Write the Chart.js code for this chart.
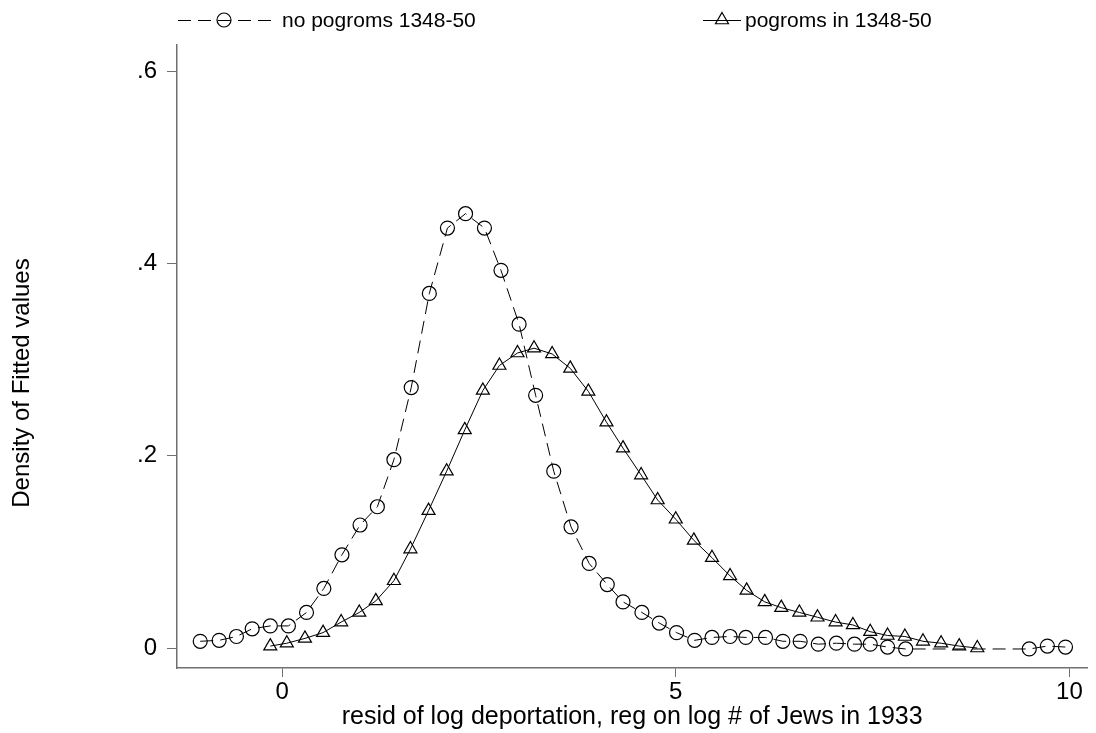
<!DOCTYPE html>
<html>
<head>
<meta charset="utf-8">
<script src="https://cdn.jsdelivr.net/npm/chart.js@4.4.1/dist/chart.umd.min.js"></script>
<style>
  html, body { margin: 0; padding: 0; background: #fff; }
  #wrap { width: 1096px; height: 733px; position: relative; }
</style>
</head>
<body>
<div id="wrap"><canvas id="c" width="1096" height="733"></canvas></div>
<script>
// ---- data ----
const seriesNames = ['no pogroms 1348-50', 'pogroms in 1348-50'];

const xNoPogroms = [-1.04, -0.80, -0.58, -0.38, -0.15, 0.08, 0.31, 0.53, 0.76, 0.99,
  1.21, 1.42, 1.64, 1.87, 2.10, 2.33, 2.57, 2.78, 3.01, 3.22,
  3.45, 3.67, 3.90, 4.13, 4.33, 4.57, 4.79, 5.01, 5.24, 5.46,
  5.69, 5.89, 6.14, 6.36, 6.58, 6.81, 7.04, 7.27, 7.47, 7.69,
  7.92, 9.49, 9.72, 9.95];
const yNoPogroms = [0.007, 0.008, 0.012, 0.020, 0.023, 0.023, 0.037, 0.062, 0.097, 0.128,
  0.147, 0.196, 0.271, 0.369, 0.437, 0.452, 0.437, 0.393, 0.337, 0.263,
  0.184, 0.126, 0.088, 0.066, 0.048, 0.037, 0.026, 0.016, 0.008, 0.011,
  0.012, 0.011, 0.011, 0.007, 0.007, 0.004, 0.005, 0.004, 0.004, 0.001,
  -0.001, -0.001, 0.002, 0.001];

const xPogroms = [-0.15, 0.06, 0.29, 0.52, 0.75, 0.98, 1.19, 1.42, 1.63, 1.86,
  2.09, 2.32, 2.55, 2.76, 2.99, 3.20, 3.43, 3.66, 3.89, 4.12,
  4.33, 4.56, 4.77, 5.00, 5.23, 5.46, 5.69, 5.90, 6.13, 6.34,
  6.57, 6.80, 7.03, 7.25, 7.47, 7.69, 7.91, 8.14, 8.37, 8.60,
  8.83];
const yPogroms = [0.002, 0.005, 0.010, 0.016, 0.027, 0.037, 0.049, 0.070, 0.103, 0.143,
  0.184, 0.227, 0.268, 0.294, 0.307, 0.312, 0.306, 0.291, 0.267, 0.235,
  0.208, 0.180, 0.154, 0.134, 0.112, 0.094, 0.075, 0.060, 0.048, 0.042,
  0.037, 0.032, 0.027, 0.024, 0.017, 0.013, 0.012, 0.007, 0.005, 0.002,
  0.000];

const xTicks = [0, 5, 10];
const xTickLabels = ['0', '5', '10'];
const yTicks = [0, 0.2, 0.4, 0.6];
const yTickLabels = ['0', '.2', '.4', '.6'];

const xTitle = 'resid of log deportation, reg on log # of Jews in 1933';
const yTitle = 'Density of Fitted values';

// ---- build ----
const toPoints = (xs, ys) => xs.map((x, i) => ({ x: x, y: ys[i] }));
const FONT = 'Liberation Sans, Arial, sans-serif';
const AXIS_COLOR = '#6f6f6f';

const legendPlugin = {
  id: 'stataLegend',
  afterDraw(chart) {
    const ctx = chart.ctx;
    const ds = chart.data.datasets;
    const items = [
      { x0: 178, x1: 274, mx: 224, tx: 282 },
      { x0: 703, x1: 741, mx: 722, tx: 745 }
    ];
    const y = 20;
    ctx.save();
    items.forEach((it, i) => {
      const d = ds[i];
      ctx.strokeStyle = '#000';
      ctx.lineWidth = d.borderWidth;
      ctx.setLineDash(d.borderDash || []);
      ctx.beginPath();
      ctx.moveTo(it.x0, y + 0.5);
      ctx.lineTo(it.x1, y + 0.5);
      ctx.stroke();
      ctx.setLineDash([]);
      ctx.fillStyle = 'rgba(0,0,0,0)';
      ctx.strokeStyle = '#000';
      ctx.lineWidth = d.pointBorderWidth;
      Chart.helpers.drawPoint(ctx, {
        pointStyle: d.pointStyle,
        radius: d.pointRadius,
        borderWidth: d.pointBorderWidth,
        rotation: 0
      }, it.mx, y);
      ctx.fillStyle = '#000';
      ctx.font = '21px ' + FONT;
      ctx.textBaseline = 'middle';
      ctx.textAlign = 'left';
      ctx.fillText(seriesNames[i], it.tx, y + 1);
    });
    ctx.restore();
  }
};

const yTitlePlugin = {
  id: 'yTitle',
  afterDraw(chart) {
    const ctx = chart.ctx;
    ctx.save();
    ctx.translate(22, 383);
    ctx.rotate(-Math.PI / 2);
    ctx.fillStyle = '#000';
    ctx.font = '24px ' + FONT;
    ctx.textAlign = 'center';
    ctx.textBaseline = 'middle';
    ctx.fillText(yTitle, 0, 0);
    ctx.restore();
  }
};

const chart = new Chart(document.getElementById('c'), {
  type: 'scatter',
  data: {
    datasets: [
      {
        label: seriesNames[0],
        data: toPoints(xNoPogroms, yNoPogroms),
        showLine: true,
        borderColor: '#000',
        borderWidth: 1,
        borderDash: [13, 7],
        pointStyle: 'circle',
        pointRadius: 7,
        pointBorderWidth: 1.2,
        pointBorderColor: '#000',
        pointBackgroundColor: 'rgba(0,0,0,0)',
        tension: 0
      },
      {
        label: seriesNames[1],
        data: toPoints(xPogroms, yPogroms),
        showLine: true,
        borderColor: '#000',
        borderWidth: 1,
        pointStyle: 'triangle',
        pointRadius: 7.5,
        pointBorderWidth: 1.2,
        pointBorderColor: '#000',
        pointBackgroundColor: 'rgba(0,0,0,0)',
        tension: 0
      }
    ]
  },
  options: {
    responsive: false,
    animation: false,
    devicePixelRatio: 1,
    layout: { padding: { top: 45, left: 0, right: 1, bottom: 0 } },
    plugins: {
      legend: { display: false },
      tooltip: { enabled: false }
    },
    scales: {
      x: {
        type: 'linear',
        min: -1.335,
        max: 10.227,
        afterFit(s) { s.height = 65; },
        afterBuildTicks(s) { s.ticks = xTicks.map(v => ({ value: v })); },
        ticks: {
          color: '#000',
          font: { family: FONT, size: 24 },
          padding: 1,
          maxRotation: 0,
          callback: (v) => xTickLabels[xTicks.indexOf(v)]
        },
        grid: { display: true, drawOnChartArea: false, drawTicks: true, tickLength: 9, color: AXIS_COLOR, lineWidth: 1 },
        border: { display: true, color: AXIS_COLOR, width: 1.5 },
        title: {
          display: true,
          text: xTitle,
          color: '#000',
          font: { family: FONT, size: 25 },
          padding: { top: 0, bottom: 1 }
        }
      },
      y: {
        type: 'linear',
        min: -0.0208,
        max: 0.6275,
        afterFit(s) { s.width = 177; },
        afterBuildTicks(s) { s.ticks = yTicks.map(v => ({ value: v })); },
        ticks: {
          color: '#000',
          font: { family: FONT, size: 24 },
          padding: 10,
          callback: (v) => yTickLabels[yTicks.indexOf(v)]
        },
        grid: { display: true, drawOnChartArea: false, drawTicks: true, tickLength: 10, color: AXIS_COLOR, lineWidth: 1 },
        border: { display: true, color: AXIS_COLOR, width: 1.5 },
        title: { display: false }
      }
    }
  },
  plugins: [legendPlugin, yTitlePlugin]
});
</script>
</body>
</html>
